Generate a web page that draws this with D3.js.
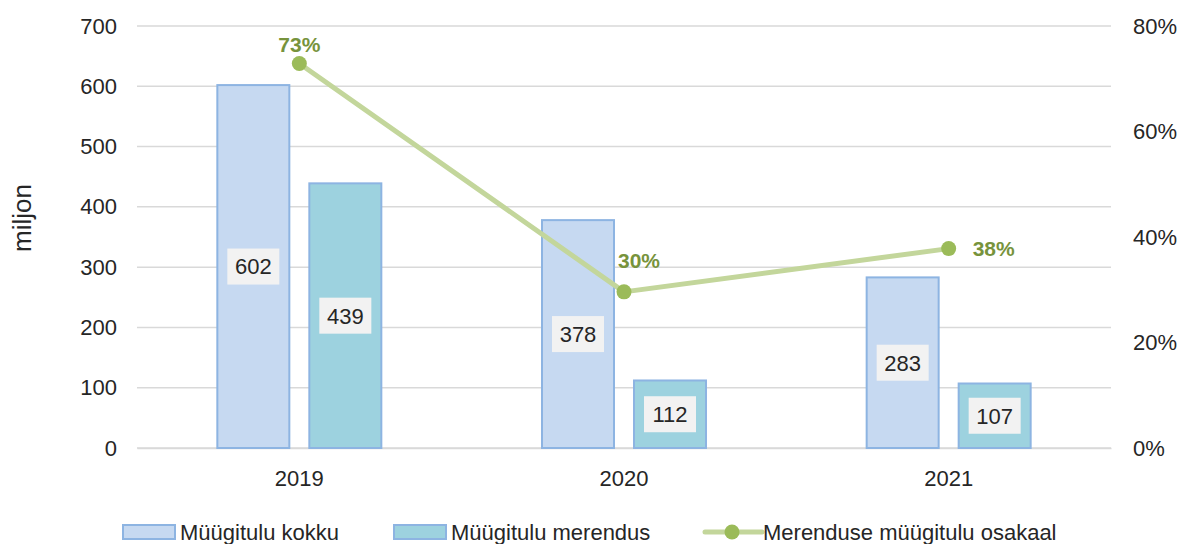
<!DOCTYPE html>
<html>
<head>
<meta charset="utf-8">
<script src="https://cdn.jsdelivr.net/npm/d3@7"></script>
<style>
  html, body { margin: 0; padding: 0; background: #fff; }
  svg { display: block; font-family: "Liberation Sans", Arial, sans-serif; }
</style>
</head>
<body>
<svg id="chart" width="1177" height="544"></svg>
<script>
// ---- data ----
const categories = ["2019", "2020", "2021"];
const totalSales = [602, 378, 283];        // Müügitulu kokku (miljon)
const seafoodSales = [439, 112, 107];      // Müügitulu merendus (miljon)
const seafoodShare = [0.729, 0.296, 0.378];// Merenduse müügitulu osakaal
const shareLabels = ["73%", "30%", "38%"];
const leftTicks = [0, 100, 200, 300, 400, 500, 600, 700];
const rightTicks = [0, 0.2, 0.4, 0.6, 0.8];
const seriesNames = ["Müügitulu kokku", "Müügitulu merendus", "Merenduse müügitulu osakaal"];
const shareLabelPlacement = ["top", "topright", "right"];

// ---- layout ----
const svg = d3.select("#chart");
const plot = { left: 137, right: 1111, top: 26, bottom: 448 };
const textColor = "#262626";
const fillTotal = "#C6D9F1", fillSea = "#9DD2DF", barStroke = "#8DB4E2";
const lineColor = "#C3D69B", markerColor = "#9BBB59", shareText = "#77933C";

const x = d3.scaleBand().domain(categories).range([plot.left, plot.right]);
const yL = d3.scaleLinear().domain([0, 700]).range([plot.bottom, plot.top]);
const yR = d3.scaleLinear().domain([0, 0.8]).range([plot.bottom, plot.top]);

const barW = 72, barGap = 20;

// gridlines
svg.append("g").selectAll("line").data(leftTicks).join("line")
  .attr("x1", plot.left).attr("x2", plot.right)
  .attr("y1", d => yL(d)).attr("y2", d => yL(d))
  .attr("stroke", "#D9D9D9").attr("stroke-width", 1.5);

// left axis
const axL = svg.append("g").attr("transform", `translate(${plot.left},0)`)
  .call(d3.axisLeft(yL).tickValues(leftTicks).tickSize(0).tickPadding(20));
axL.select(".domain").remove();
axL.selectAll("text").attr("font-size", 22).attr("fill", textColor)
  .attr("font-family", "Liberation Sans, Arial, sans-serif");

// right axis
const axR = svg.append("g").attr("transform", `translate(${plot.right},0)`)
  .call(d3.axisRight(yR).tickValues(rightTicks).tickFormat(d3.format(".0%")).tickSize(0).tickPadding(22));
axR.select(".domain").remove();
axR.selectAll("text").attr("font-size", 22).attr("fill", textColor)
  .attr("font-family", "Liberation Sans, Arial, sans-serif");

// x axis
const axX = svg.append("g").attr("transform", `translate(0,${plot.bottom})`)
  .call(d3.axisBottom(x).tickSize(0).tickPadding(22));
axX.select(".domain").attr("stroke", "#D9D9D9").attr("stroke-width", 1.5);
axX.selectAll("text").attr("font-size", 22).attr("fill", textColor)
  .attr("font-family", "Liberation Sans, Arial, sans-serif");

// y title
svg.append("text")
  .attr("transform", `translate(31,218) rotate(-90)`)
  .attr("text-anchor", "middle")
  .attr("font-size", 26).attr("fill", textColor)
  .text("miljon");

// bars
const series = [
  { vals: totalSales, fill: fillTotal, off: -(barGap / 2 + barW) },
  { vals: seafoodSales, fill: fillSea, off: barGap / 2 }
];
series.forEach(s => {
  const g = svg.append("g");
  g.selectAll("rect").data(categories).join("rect")
    .attr("x", (c) => x(c) + x.bandwidth() / 2 + s.off)
    .attr("y", (c, i) => yL(s.vals[i]))
    .attr("width", barW)
    .attr("height", (c, i) => yL(0) - yL(s.vals[i]))
    .attr("fill", s.fill).attr("stroke", barStroke).attr("stroke-width", 2);
  const lab = g.selectAll("g.lab").data(categories).join("g").attr("class", "lab")
    .attr("transform", (c, i) => `translate(${x(c) + x.bandwidth() / 2 + s.off + barW / 2},${(yL(s.vals[i]) + yL(0)) / 2})`);
  lab.append("rect").attr("x", -26).attr("y", -18).attr("width", 52).attr("height", 36).attr("fill", "#F2F2F2");
  lab.append("text").attr("text-anchor", "middle").attr("dy", "0.36em")
    .attr("font-size", 22).attr("fill", textColor)
    .text((c, i) => s.vals[i]);
});

// line
const cx = c => x(c) + x.bandwidth() / 2;
const line = d3.line().x((d, i) => cx(categories[i])).y(d => yR(d));
svg.append("path").datum(seafoodShare).attr("d", line)
  .attr("fill", "none").attr("stroke", lineColor).attr("stroke-width", 5).attr("stroke-linejoin", "round");
svg.append("g").selectAll("circle").data(seafoodShare).join("circle")
  .attr("cx", (d, i) => cx(categories[i])).attr("cy", d => yR(d)).attr("r", 7.5)
  .attr("fill", markerColor);
svg.append("g").selectAll("text").data(seafoodShare).join("text")
  .attr("x", (d, i) => {
    const p = shareLabelPlacement[i];
    return cx(categories[i]) + (p === "top" ? 0 : p === "topright" ? 15 : 45);
  })
  .attr("y", (d, i) => {
    const p = shareLabelPlacement[i];
    return yR(d) + (p === "top" ? -19 : p === "topright" ? -31 : 0);
  })
  .attr("dy", "0.36em")
  .attr("text-anchor", "middle")
  .attr("font-size", 21).attr("font-weight", "bold").attr("fill", shareText)
  .text((d, i) => shareLabels[i]);

// legend
const leg = svg.append("g").attr("transform", "translate(0,532)");
const legItems = [
  { x: 122, type: "bar", fill: fillTotal, name: seriesNames[0] },
  { x: 393, type: "bar", fill: fillSea, name: seriesNames[1] },
  { x: 705, type: "line", name: seriesNames[2] }
];
legItems.forEach(it => {
  const g = leg.append("g").attr("transform", `translate(${it.x},0)`);
  if (it.type === "bar") {
    g.append("rect").attr("x", 1).attr("y", -7).attr("width", 52).attr("height", 14)
      .attr("fill", it.fill).attr("stroke", barStroke).attr("stroke-width", 2);
  } else {
    g.append("line").attr("x1", 0).attr("x2", 57).attr("y1", 0).attr("y2", 0)
      .attr("stroke", lineColor).attr("stroke-width", 5).attr("stroke-linecap", "round");
    g.append("circle").attr("cx", 27).attr("cy", 0).attr("r", 7.5).attr("fill", markerColor);
  }
  g.append("text").attr("x", 58).attr("dy", "0.36em")
    .attr("font-size", 22).attr("fill", textColor).text(it.name);
});
</script>
</body>
</html>
